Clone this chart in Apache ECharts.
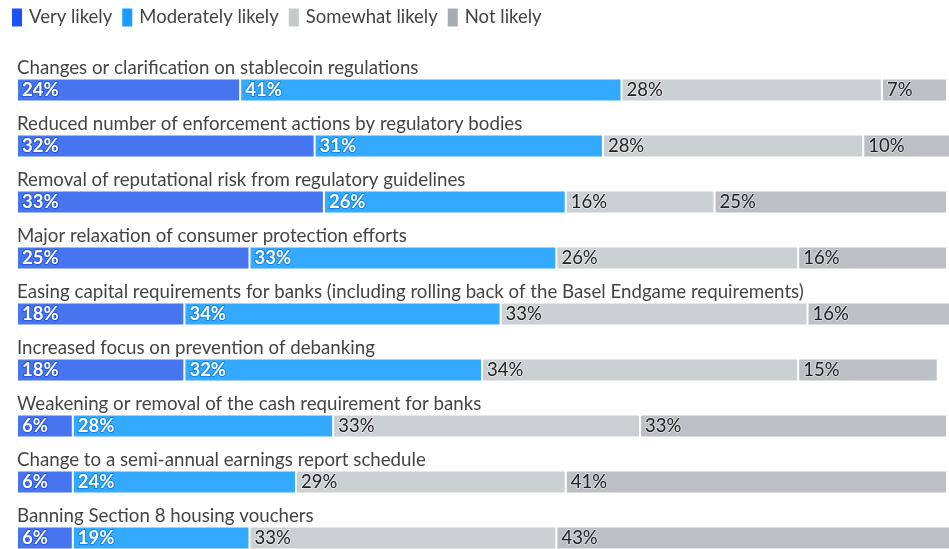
<!DOCTYPE html>
<html>
<head>
<meta charset="utf-8">
<script src="https://cdn.jsdelivr.net/npm/echarts@6/dist/echarts.min.js"></script>
<style>
  html, body { margin: 0; padding: 0; background: #fff; }
  #chart { width: 949px; height: 549px; }
</style>
</head>
<body>
<div id="chart"></div>
<script>
// Policy changes and how likely each is, share of respondents (%)
const categories = [
  'Changes or clarification on stablecoin regulations',
  'Reduced number of enforcement actions by regulatory bodies',
  'Removal of reputational risk from regulatory guidelines',
  'Major relaxation of consumer protection efforts',
  'Easing capital requirements for banks (including rolling back of the Basel Endgame requirements)',
  'Increased focus on prevention of debanking',
  'Weakening or removal of the cash requirement for banks',
  'Change to a semi-annual earnings report schedule',
  'Banning Section 8 housing vouchers'
];
const seriesNames = ['Very likely', 'Moderately likely', 'Somewhat likely', 'Not likely'];
const veryLikely = [24, 32, 33, 25, 18, 18, 6, 6, 6];
const moderatelyLikely = [41, 31, 26, 33, 34, 32, 28, 24, 19];
const somewhatLikely = [28, 28, 16, 26, 33, 34, 33, 29, 33];
const notLikely = [7, 10, 25, 16, 16, 15, 33, 41, 43];

const values = [veryLikely, moderatelyLikely, somewhatLikely, notLikely];
const barColors = ['#4675ef', '#33a9ff', '#cbd0d3', '#bcc0c4'];
const iconColors = ['#1f52f5', '#1a9cff', '#c6cacd', '#a8adb2'];
const labelColors = ['#ffffff', '#ffffff', '#222222', '#222222'];
const labelBorders = ['#2a55d6', '#1584e0', '#e3e6e8', '#d6d9dc'];

const FONT = 'Lato, "Noto Sans", sans-serif';

const chart = echarts.init(document.getElementById('chart'), null, { renderer: 'canvas' });

chart.setOption({
  animation: false,
  textStyle: { fontFamily: FONT },
  legend: {
    left: 12,
    top: 8,
    padding: 0,
    itemWidth: 10,
    itemHeight: 18,
    itemGap: 10,
    icon: 'rect',
    itemStyle: { borderWidth: 0, borderRadius: 3 },
    textStyle: { fontFamily: FONT, fontSize: 18.5, color: '#444', padding: [0, 0, 0, 2] },
    data: seriesNames.map((n, i) => ({
      name: n,
      itemStyle: { color: iconColors[i], borderWidth: 0, borderRadius: 3 }
    }))
  },
  grid: { left: 17, top: 62, width: 930, height: 504, containLabel: false, outerBoundsMode: 'none' },
  xAxis: {
    type: 'value',
    min: 0,
    max: 100,
    show: false
  },
  yAxis: {
    type: 'category',
    inverse: true,
    data: categories,
    axisLine: { show: false },
    axisTick: { show: false },
    splitLine: { show: false },
    axisLabel: {
      inside: true,
      margin: 0,
      align: 'left',
      verticalAlign: 'bottom',
      padding: [0, 0, 13, 0],
      fontFamily: FONT,
      fontSize: 18.7,
      color: '#444'
    },
    z: 10
  },
  series: seriesNames.map((name, i) => ({
    name: name,
    type: 'bar',
    stack: 'total',
    barWidth: 23,
    clip: false,
    data: values[i],
    itemStyle: { color: barColors[i], borderColor: '#ffffff', borderWidth: 1 },
    label: {
      show: true,
      position: 'insideLeft',
      distance: 5,
      formatter: '{c}%',
      fontFamily: FONT,
      fontSize: 18.5,
      fontWeight: i < 2 ? 'bold' : 'normal',
      color: labelColors[i],
      textBorderColor: labelBorders[i],
      textBorderWidth: 2
    },
    emphasis: { disabled: true }
  }))
});
</script>
</body>
</html>
